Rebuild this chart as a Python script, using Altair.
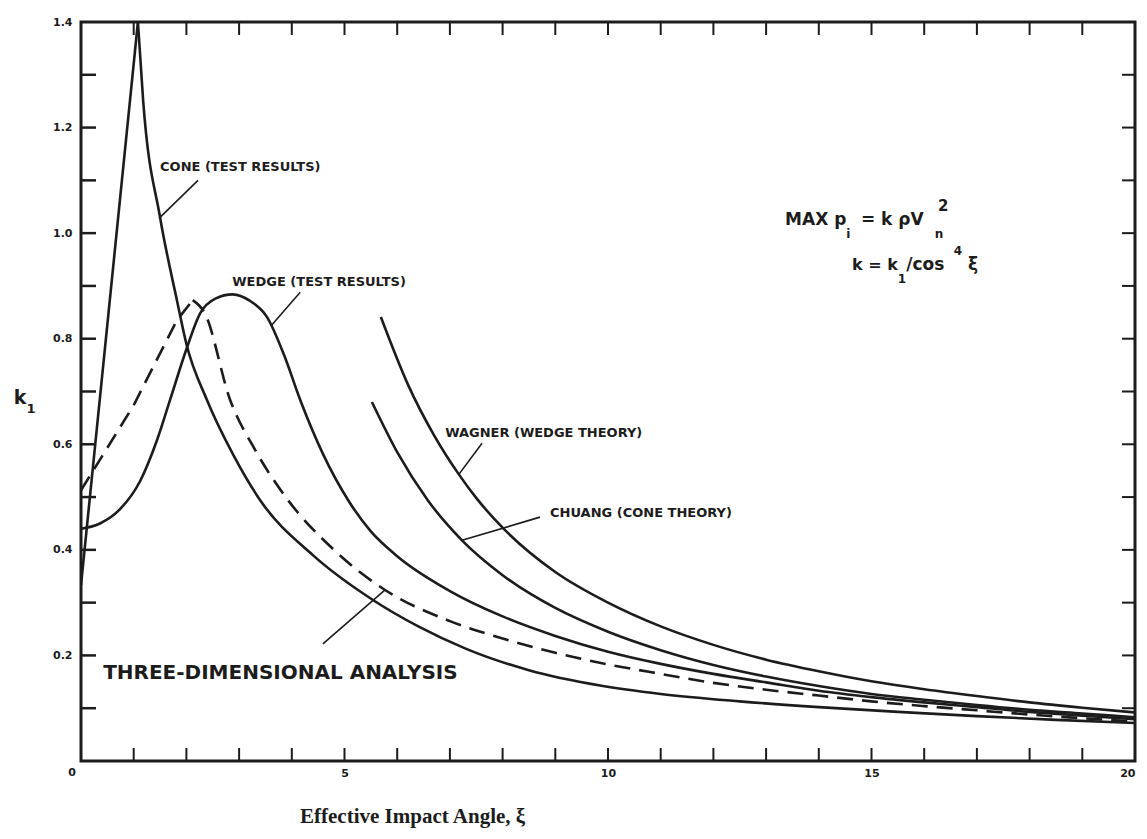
import altair as alt
import pandas as pd

# ---------------- data ----------------
# cone (test results): straight rise to a sharp peak, then a smooth decay
cone_up_x = [0, 1.08]
cone_up_y = [0.333, 1.40]
cone_down_x = [1.08, 1.18, 1.5, 1.82, 2.0, 2.39, 2.9, 3.4, 4.4, 5.54, 6.4, 7.32, 8.5, 9.85,
               11, 12.5, 14, 15.5, 17, 18.5, 20]
cone_down_y = [1.40, 1.25, 1.03, 0.873, 0.79, 0.684, 0.578, 0.494, 0.39, 0.305, 0.255, 0.212,
               0.172, 0.143, 0.127, 0.113, 0.102, 0.093, 0.085, 0.078, 0.072]

wedge_x = [0, 0.36, 0.75, 1.12, 1.45, 1.69, 2.0, 2.26, 2.55, 2.88, 3.2, 3.53, 3.85, 4.16, 4.6,
           5.07, 5.5, 6, 7, 8, 9, 10, 11, 12, 13, 14, 15, 16, 17, 18, 19, 20]
wedge_y = [0.44, 0.45, 0.478, 0.53, 0.61, 0.684, 0.78, 0.848, 0.876, 0.884, 0.872, 0.841, 0.77,
           0.684, 0.58, 0.494, 0.435, 0.388, 0.322, 0.274, 0.237, 0.207, 0.184, 0.165, 0.149,
           0.133, 0.121, 0.111, 0.102, 0.093, 0.086, 0.079]

# three-dimensional analysis (dashed): straight rise to a sharp apex, then decay
three_d_up_x = [0, 1.0, 1.82, 2.12]
three_d_up_y = [0.513, 0.674, 0.835, 0.873]
three_d_down_x = [2.12, 2.35, 2.83, 3.3, 3.93, 4.8, 5.77, 7, 8, 9, 10, 11, 12, 13, 14,
                  15, 16, 17, 18, 19, 20]
three_d_down_y = [0.873, 0.848, 0.684, 0.59, 0.494, 0.40, 0.324, 0.265, 0.232, 0.205, 0.183,
                  0.165, 0.148, 0.135, 0.124, 0.113, 0.104, 0.096, 0.088, 0.081, 0.075]

chuang_x = [5.52, 6.0, 6.58, 7.23, 8, 9, 10, 11, 12, 13, 14, 15, 16, 17, 18, 19, 20]
chuang_y = [0.68, 0.585, 0.494, 0.418, 0.352, 0.29, 0.245, 0.210, 0.182, 0.160, 0.142, 0.127,
            0.116, 0.106, 0.097, 0.090, 0.083]

wagner_x = [5.69, 6.2, 6.7, 7.17, 7.51, 8, 9, 10, 11, 12, 13, 14, 15, 16, 17, 18, 19, 20]
wagner_y = [0.841, 0.714, 0.617, 0.543, 0.497, 0.442, 0.358, 0.30, 0.255, 0.22, 0.192, 0.17,
            0.151, 0.136, 0.123, 0.111, 0.101, 0.092]

x_label_values = [5, 10, 15, 20]
y_label_values = [0.2, 0.4, 0.6, 0.8, 1.0, 1.2, 1.4]
x_minor_ticks = [1, 2, 3, 4, 5, 6, 7, 8, 9, 10, 11, 12, 13, 14, 15, 16, 17, 18, 19]
y_minor_ticks = [0.1, 0.2, 0.3, 0.4, 0.5, 0.6, 0.7, 0.8, 0.9, 1.0, 1.1, 1.2, 1.3]

label_texts = ["CONE (TEST RESULTS)", "WEDGE (TEST RESULTS)", "WAGNER (WEDGE THEORY)",
               "CHUANG (CONE THEORY)"]
label_x = [1.50, 2.87, 6.91, 8.90]
label_y = [1.125, 0.907, 0.621, 0.470]

leader_x = [2.22, 4.16, 7.61, 8.71, 4.59]
leader_y = [1.100, 0.888, 0.602, 0.462, 0.222]
leader_x2 = [1.48, 3.62, 7.17, 7.23, 5.77]
leader_y2 = [1.028, 0.826, 0.543, 0.418, 0.324]

# ---------------- tables ----------------
def curve(name, xs, ys):
    return pd.DataFrame({"series": name, "x": xs, "y": ys, "i": range(len(xs))})

smooth_df = pd.concat([curve("cone", cone_down_x, cone_down_y),
                       curve("wedge", wedge_x, wedge_y),
                       curve("chuang", chuang_x, chuang_y),
                       curve("wagner", wagner_x, wagner_y)])
straight_df = curve("cone_up", cone_up_x, cone_up_y)
dash_up_df = curve("3d_up", three_d_up_x, three_d_up_y)
dash_down_df = curve("3d_down", three_d_down_x, three_d_down_y)

W, H = 1054, 739
INK = "#1c1c1c"
SANS = "DejaVu Sans"

xs = alt.Scale(domain=[0, 20], nice=False, zero=False)
ys = alt.Scale(domain=[0, 1.4], nice=False, zero=False)
xax = alt.Axis(values=x_label_values, ticks=False, domain=False, grid=False, title=None,
               labelFont=SANS, labelFontWeight="bold", labelFontSize=11, labelColor=INK,
               labelPadding=6, format="d")
yax = alt.Axis(values=y_label_values, ticks=False, domain=False, grid=False, title=None,
               labelFont=SANS, labelFontWeight="bold", labelFontSize=11, labelColor=INK,
               labelPadding=9, format=".1f")

X = lambda f="x": alt.X(f + ":Q", scale=xs, axis=xax)
Y = lambda f="y": alt.Y(f + ":Q", scale=ys, axis=yax)

smooth = alt.Chart(smooth_df).mark_line(stroke=INK, strokeWidth=2.6, clip=True,
                                        interpolate="monotone").encode(
    x=X(), y=Y(), detail="series:N", order="i:Q")
straight = alt.Chart(straight_df).mark_line(stroke=INK, strokeWidth=2.6, clip=True).encode(
    x=X(), y=Y(), order="i:Q")
dashed_up = alt.Chart(dash_up_df).mark_line(stroke=INK, strokeWidth=2.6, strokeDash=[16, 9],
                                            clip=True).encode(x=X(), y=Y(), order="i:Q")
dashed_down = alt.Chart(dash_down_df).mark_line(stroke=INK, strokeWidth=2.6,
                                                strokeDash=[16, 9], clip=True,
                                                interpolate="monotone").encode(
    x=X(), y=Y(), order="i:Q")

xt = pd.DataFrame({"x": x_minor_ticks})
yt = pd.DataFrame({"y": y_minor_ticks})
tick_bottom = alt.Chart(xt).mark_rule(stroke=INK, strokeWidth=2).encode(
    x=X(), y=alt.value(H), y2=alt.value(H - 13))
tick_top = alt.Chart(xt).mark_rule(stroke=INK, strokeWidth=2).encode(
    x=X(), y=alt.value(0), y2=alt.value(13))
tick_left = alt.Chart(yt).mark_rule(stroke=INK, strokeWidth=2.5).encode(
    y=Y(), x=alt.value(0), x2=alt.value(15))
tick_right = alt.Chart(yt).mark_rule(stroke=INK, strokeWidth=2).encode(
    y=Y(), x=alt.value(W), x2=alt.value(W - 13))

lead_df = pd.DataFrame({"x": leader_x, "y": leader_y, "x2": leader_x2, "y2": leader_y2})
leaders = alt.Chart(lead_df).mark_rule(stroke=INK, strokeWidth=1.6).encode(
    x=X(), y=Y(), x2="x2:Q", y2="y2:Q")

lab_df = pd.DataFrame({"t": label_texts, "x": label_x, "y": label_y})
labels = alt.Chart(lab_df).mark_text(align="left", baseline="middle", font=SANS,
                                     fontWeight="bold", fontSize=13, color=INK).encode(
    x=X(), y=Y(), text="t:N")

three_lab = alt.Chart(pd.DataFrame({"t": ["THREE-DIMENSIONAL ANALYSIS"], "x": [0.42],
                                    "y": [0.167]})).mark_text(
    align="left", baseline="middle", font=SANS, fontWeight="bold", fontSize=20,
    color=INK).encode(x=X(), y=Y(), text="t:N")

# formula pieces
f_df = pd.DataFrame({
    "t": ["MAX p", "i", "= k \u03c1V", "n", "2", "k = k", "1", "/cos", "4", "\u03be"],
    "x": [13.36, 14.52, 14.80, 16.20, 16.26, 14.63, 15.50, 15.66, 16.56, 16.83],
    "y": [1.025, 0.998, 1.025, 0.998, 1.052, 0.939, 0.914, 0.939, 0.966, 0.939],
    "s": [17, 12, 17, 12, 15, 16, 12, 17, 12, 17],
})
formula = alt.Chart(f_df).mark_text(align="left", baseline="middle", font=SANS,
                                    fontWeight="bold", color=INK).encode(
    x=X(), y=Y(), text="t:N", size=alt.Size("s:Q", scale=None, legend=None))

zero_lab = alt.Chart(pd.DataFrame({"t": ["0"]})).mark_text(
    font=SANS, fontWeight="bold", fontSize=11, color=INK, align="center",
    baseline="middle").encode(x=alt.value(-9), y=alt.value(751), text="t:N")
ytitle_k = alt.Chart(pd.DataFrame({"t": ["k"]})).mark_text(
    font=SANS, fontWeight="bold", fontSize=19, color=INK, align="center",
    baseline="middle").encode(x=alt.value(-61), y=alt.value(376), text="t:N")
ytitle_1 = alt.Chart(pd.DataFrame({"t": ["1"]})).mark_text(
    font=SANS, fontWeight="bold", fontSize=13, color=INK, align="center",
    baseline="middle").encode(x=alt.value(-50), y=alt.value(387), text="t:N")
xtitle = alt.Chart(pd.DataFrame({"t": ["Effective Impact Angle, \u03be"]})).mark_text(
    font="Liberation Serif", fontWeight="bold", fontSize=21, color=INK, align="left",
    baseline="middle").encode(x=alt.value(219), y=alt.value(795), text="t:N")

chart = alt.layer(
    smooth, straight, dashed_up, dashed_down, tick_bottom, tick_top, tick_left, tick_right,
    leaders, labels, three_lab, formula, zero_lab, ytitle_k, ytitle_1, xtitle
).properties(
    width=W, height=H,
    autosize=alt.AutoSizeParams(type="none"),
    padding={"left": 73, "top": 14, "right": 4, "bottom": 70},
    background="white",
).configure_view(stroke=INK, strokeWidth=3)

chart.save("out.html", embed_options={"renderer": "svg", "actions": False})
